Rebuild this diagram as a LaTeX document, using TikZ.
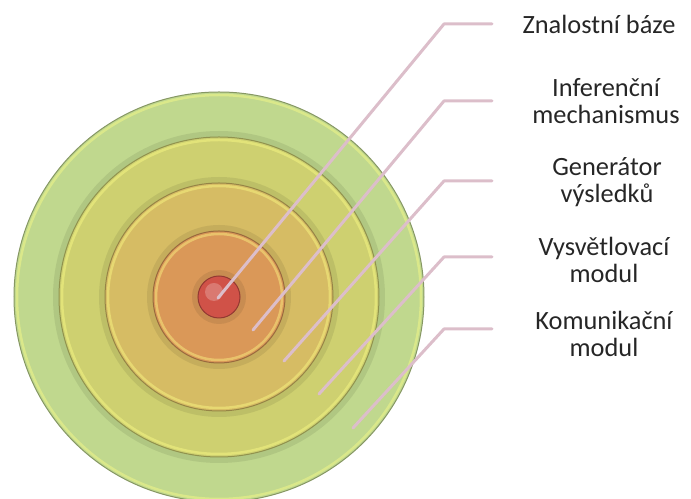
\documentclass[tikz,border=0pt]{standalone}
\usepackage{fontspec}
\setmainfont{Carlito}
\usetikzlibrary{calc}

\definecolor{ringKM}{RGB}{192,216,142}
\definecolor{ringVM}{RGB}{206,208,112}
\definecolor{ringGV}{RGB}{214,188,100}
\definecolor{ringIM}{RGB}{218,152,88}
\definecolor{ringKB}{RGB}{208,82,72}
\definecolor{leadpink}{RGB}{220,190,202}

\begin{document}
\begin{tikzpicture}[
  x=0.02cm, y=-0.02cm,
  font=\fontsize{15}{15.6}\selectfont,
  disk/.style={fill=#1, draw=#1!70!black, line width=0.02cm},
  rim/.style={draw=#1!40!yellow!60!white, line width=0.05cm, opacity=0.55},
  shadow/.style={draw=black, line width=0.12cm, opacity=0.08},
  leader/.style={draw=leadpink, line width=0.06cm, line join=round, line cap=round},
  lbl/.style={align=center, inner sep=0pt, text=black!85},
]

\useasboundingbox (0,0) rectangle (691,499);

% ---------- concentric layers ----------
\begin{scope}
  \clip (0,0) rectangle (691,499);
  \coordinate (c) at (219,297);
  \draw[disk=ringKM] (c) circle (205);
  \draw[rim=ringKM]  (c) circle (202);
  \draw[shadow]      (c) circle (163);
  \draw[disk=ringVM] (c) circle (160);
  \draw[rim=ringVM]  (c) circle (157);
  \draw[shadow]      (c) circle (117);
  \draw[disk=ringGV] (c) circle (114);
  \draw[rim=ringGV]  (c) circle (111);
  \draw[shadow]      (c) circle (69);
  \draw[disk=ringIM] (c) circle (66);
  \draw[rim=ringIM]  (c) circle (63);
  \draw[shadow]      (c) circle (24);
  \draw[disk=ringKB] (c) circle (21);
  \fill[ringKB!55!white, opacity=0.5] (214,292) circle (9);
\end{scope}

% ---------- labels ----------
\node[lbl] (kb) at (599,24)  {Znalostní báze};
\node[lbl] (im) at (606,101) {Inferenční\\mechanismus};
\node[lbl] (gv) at (607,182) {Generátor\\výsledků};
\node[lbl] (vm) at (604,260) {Vysvětlovací\\modul};
\node[lbl] (km) at (604,334) {Komunikační\\modul};

% ---------- leader lines ----------
\coordinate (kbE) at (218,298);
\coordinate (imE) at (253,330);
\coordinate (gvE) at (284,361);
\coordinate (vmE) at (319,394);
\coordinate (kmE) at (353,428);

\coordinate (kbK) at (444,24);
\coordinate (imK) at (444,101);
\coordinate (gvK) at (444,181);
\coordinate (vmK) at (444,257);
\coordinate (kmK) at (444,329);

\coordinate (kbT) at (492,24);
\coordinate (imT) at (492,101);
\coordinate (gvT) at (492,181);
\coordinate (vmT) at (492,257);
\coordinate (kmT) at (492,329);

\draw[leader] (kbE) -- (kbK) -- (kbT);
\draw[leader] (imE) -- (imK) -- (imT);
\draw[leader] (gvE) -- (gvK) -- (gvT);
\draw[leader] (vmE) -- (vmK) -- (vmT);
\draw[leader] (kmE) -- (kmK) -- (kmT);

\end{tikzpicture}
\end{document}
